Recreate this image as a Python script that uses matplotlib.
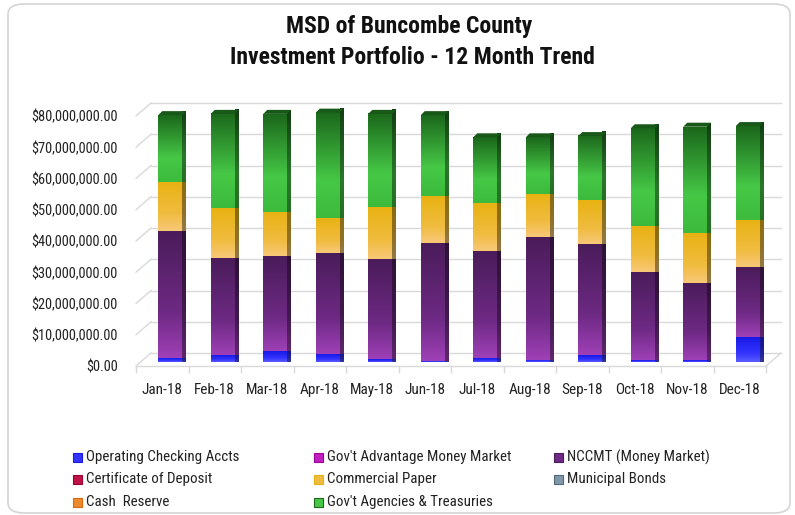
import numpy as np
import matplotlib
matplotlib.use("Agg")
import matplotlib.pyplot as plt
from matplotlib.patches import Polygon, Rectangle, FancyBboxPatch
from matplotlib.colors import to_rgb

plt.rcParams['font.family'] = ['Roboto Condensed', 'Liberation Sans', 'DejaVu Sans']

# ---- data (values in dollars) ----
months = ["Jan-18", "Feb-18", "Mar-18", "Apr-18", "May-18", "Jun-18",
          "Jul-18", "Aug-18", "Sep-18", "Oct-18", "Nov-18", "Dec-18"]
operating = [1.1e6, 2.1e6, 3.5e6, 2.5e6, 0.9e6, 0.3e6, 1.1e6, 0.7e6, 2.0e6, 0.4e6, 0.5e6, 7.8e6]
govt_advantage = [0] * 12
nccmt = [40.8e6, 31.0e6, 30.4e6, 32.2e6, 32.0e6, 37.8e6, 34.4e6, 39.1e6, 35.7e6, 28.4e6, 24.8e6, 22.6e6]
cert_deposit = [0] * 12
commercial_paper = [15.7e6, 16.0e6, 14.1e6, 11.2e6, 16.5e6, 14.9e6, 15.2e6, 13.9e6, 14.0e6, 14.6e6, 16.0e6, 15.1e6]
municipal_bonds = [0] * 12
cash_reserve = [0] * 12
govt_agencies = [21.3e6, 30.2e6, 31.3e6, 33.8e6, 29.9e6, 25.9e6, 21.1e6, 18.1e6, 20.5e6, 31.3e6, 33.9e6, 29.9e6]

series_names = ["Operating Checking Accts", "Gov't Advantage Money Market", "NCCMT (Money Market)",
                "Certificate of Deposit", "Commercial Paper", "Municipal Bonds",
                "Cash  Reserve", "Gov't Agencies & Treasuries"]
series_values = [operating, govt_advantage, nccmt, cert_deposit, commercial_paper,
                 municipal_bonds, cash_reserve, govt_agencies]
# gradient stops (top, middle, bottom) for each series
series_grad = [
    ("#1a1ae8", "#3434ff", "#5c5cff"),
    ("#a000a0", "#c020c0", "#e050e0"),
    ("#4a1c5a", "#6e2a84", "#9e40b6"),
    ("#9a0030", "#c01048", "#d83a66"),
    ("#e8b212", "#f0bc40", "#f8c878"),
    ("#506878", "#8098a8", "#b8c8d4"),
    ("#d86a10", "#ec8a30", "#f8a858"),
    ("#1c681c", "#46c846", "#3cba3c"),
]

# ---- geometry ----
W, H, DPI = 795, 515, 100
fig = plt.figure(figsize=(W / DPI, H / DPI), dpi=DPI)

card = FancyBboxPatch((8 / W, 2 / H), 782 / W, 509 / H, boxstyle="round,pad=0,rounding_size=0.02",
                      transform=fig.transFigure, facecolor="white", edgecolor="#d4d4d4", lw=1.2, zorder=-5)
fig.patches.append(card)

ax_l, ax_r, ax_b, ax_t = 136, 766, 366, 116
ax = fig.add_axes([ax_l / W, (H - ax_b) / H, (ax_r - ax_l) / W, (ax_b - ax_t) / H])
ax.set_facecolor("none")
ax.set_zorder(2)
ymax = 80e6
ax.set_xlim(-0.5, len(months) - 0.5)
ax.set_ylim(0, ymax)

px_x = len(months) / (ax_r - ax_l)   # data units per pixel
px_y = ymax / (ax_b - ax_t)

# back wall offset and bar offset (pseudo 3d)
wall_dx, wall_dy = 15 * px_x, 13 * px_y
bar_dx, bar_dy = 8 * px_x, 4.3 * px_y
dep_dx, dep_dy = 4 * px_x, 4 * px_y
bar_w = 24 * px_x

grid_c = "#d9d9d9"
yticks = np.arange(0, ymax + 1, 10e6)
x0, x1 = -0.5, len(months) - 0.5
for v in yticks:
    ax.plot([x0 + wall_dx, x1 + wall_dx], [v + wall_dy, v + wall_dy], color=grid_c, lw=1.0, clip_on=False, zorder=1)
    ax.plot([x0, x0 + wall_dx], [v, v + wall_dy], color=grid_c, lw=1.0, clip_on=False, zorder=1)
# floor
ax.plot([x0, x1], [0, 0], color=grid_c, lw=1.0, clip_on=False, zorder=1)
ax.plot([x1, x1 + wall_dx], [0, wall_dy], color=grid_c, lw=1.0, clip_on=False, zorder=1)


def gradient(stops, n=64, mid_at=0.35):
    top, mid, bot = [np.array(to_rgb(c)) for c in stops]
    t = np.linspace(0, 1, n)[:, None]  # 0 = bottom, 1 = top
    lower = bot + (mid - bot) * np.clip(t / mid_at, 0, 1)
    upper = mid + (top - mid) * np.clip((t - mid_at) / (1 - mid_at), 0, 1)
    col = np.where(t < mid_at, lower, upper)
    return col[:, None, :]


def shade(arr, f):
    return np.clip(arr * f, 0, 1)


for i in range(len(months)):
    base = 0.0
    cx = i + bar_dx
    left, right = cx - bar_w / 2, cx + bar_w / 2
    top_idx = max(k for k in range(len(series_values)) if series_values[k][i] > 0)
    for k, vals in enumerate(series_values):
        v = vals[i]
        if v <= 0:
            continue
        y0, y1 = base + bar_dy, base + v + bar_dy
        g = gradient(series_grad[k])
        ax.imshow(g, extent=[left, right, y0, y1], origin="lower", aspect="auto",
                  interpolation="bilinear", zorder=3, clip_on=False)
        side = Polygon([(right, y0), (right + dep_dx, y0 + dep_dy), (right + dep_dx, y1 + dep_dy), (right, y1)],
                       closed=True, facecolor="none", edgecolor="none")
        ax.add_patch(side)
        im = ax.imshow(shade(g, 0.6), extent=[right, right + dep_dx, y0, y1 + dep_dy], origin="lower",
                       aspect="auto", interpolation="bilinear", zorder=3, clip_on=False)
        im.set_clip_path(side)
        if k == top_idx:
            cap = Polygon([(left, y1), (right, y1), (right + dep_dx, y1 + dep_dy), (left + dep_dx, y1 + dep_dy)],
                          closed=True, facecolor=shade(np.array(to_rgb(series_grad[k][0])), 0.85),
                          edgecolor="none", zorder=4, clip_on=False)
            ax.add_patch(cap)
        base += v

ax.set_xlim(-0.5, len(months) - 0.5)
ax.set_ylim(0, ymax)

for s in ax.spines.values():
    s.set_visible(False)
ax.set_xticks(range(len(months)))
ax.set_xticklabels(months, fontsize=11, color="#222222")
ax.set_xticks(np.arange(-0.5, len(months)), minor=True)
ax.tick_params(axis="x", which="major", length=0, pad=12)
ax.tick_params(axis="x", which="minor", length=5, color=grid_c, width=1)
ax.set_yticks(yticks)
ax.set_yticklabels(["${:,.2f}".format(v) for v in yticks], fontsize=10.4, color="#222222")
ax.tick_params(axis="y", length=0, pad=13)

fig.text(409 / W, 1 - 27 / H, "MSD of Buncombe County", ha="center", va="center",
         fontsize=17, fontweight="bold", color="#111111")
fig.text(412 / W, 1 - 58 / H, "Investment Portfolio - 12 Month Trend", ha="center", va="center",
         fontsize=17, fontweight="bold", color="#111111")

# legend laid out in rows of three
col_x = [77, 318, 558]
row_y = [457, 479, 502]
for k, name in enumerate(series_names):
    r, c = k // 3, k % 3
    mx, my = col_x[c], row_y[r]
    fig.patches.append(Rectangle(((mx - 4.5) / W, (H - my - 4.5) / H), 9 / W, 9 / H, transform=fig.transFigure,
                                 facecolor=series_grad[k][1], edgecolor=series_grad[k][0], lw=0.8))
    fig.text((mx + 9) / W, 1 - my / H, name, ha="left", va="center", fontsize=10.8, color="#222222")

fig.savefig("out.png", dpi=DPI)
